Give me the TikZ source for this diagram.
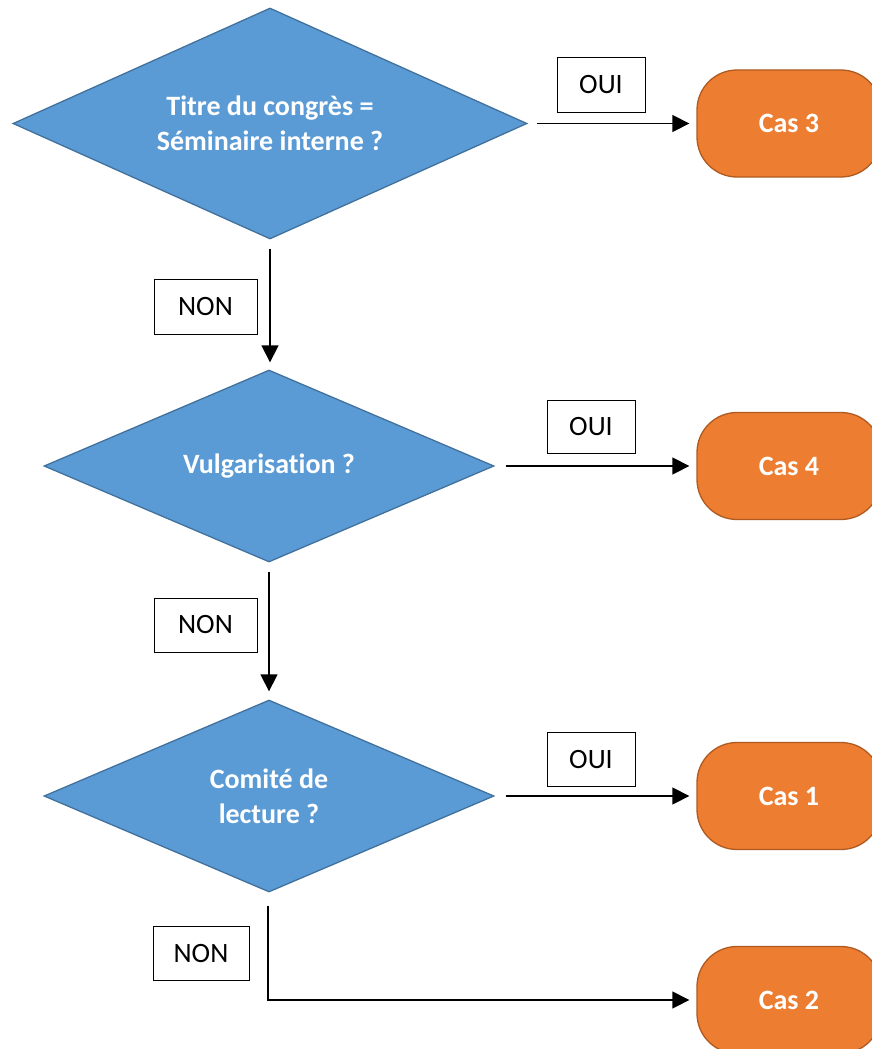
\documentclass[tikz,border=0pt]{standalone}
\usepackage{fontspec}
\setmainfont[RawFeature=-liga]{Carlito}
\usetikzlibrary{shapes.geometric,arrows.meta}
\definecolor{dfill}{HTML}{5B9BD5}
\definecolor{ddraw}{HTML}{41719C}
\definecolor{tfill}{HTML}{ED7D31}
\definecolor{tdraw}{HTML}{AE5A21}
\begin{document}
\begin{tikzpicture}[x=1pt,y=-1pt,
  decision/.style={diamond,draw=ddraw,fill=dfill,line width=1.3pt,inner sep=0pt,
    text=white,font=\fontsize{28}{35}\selectfont\bfseries,align=center},
  term/.style={rectangle,rounded corners=40pt,draw=tdraw,fill=tfill,line width=1.3pt,
    minimum width=184pt,minimum height=107pt,inner sep=0pt,text=white,
    font=\fontsize{28}{35}\selectfont\bfseries},
  lab/.style={rectangle,draw=black,line width=1pt,inner sep=0pt,
    font=\fontsize{28}{34}\selectfont},
  conn/.style={line width=1.3pt,-{Triangle[length=17pt,width=17pt]}}]
\useasboundingbox (0,0) rectangle (872,1049);
\clip (0,0) rectangle (872,1049);
% decisions
\node[decision,shape aspect=2.22,minimum width=514pt,minimum height=231pt] (d1) at (270,123.5)
  {Titre du congrès =\\Séminaire interne ?};
\node[decision,shape aspect=2.34,minimum width=450pt,minimum height=192pt] (d2) at (269,466)
  {Vulgarisation ?};
\node[decision,shape aspect=2.34,minimum width=450pt,minimum height=192pt] (d3) at (269,796)
  {Comité de\\lecture ?};
% terminals
\node[term] (c3) at (789,123.5) {Cas 3};
\node[term] (c4) at (789,466) {Cas 4};
\node[term] (c1) at (789,796) {Cas 1};
\node[term] (c2) at (789,1000) {Cas 2};
% labels
\node[lab,minimum width=88pt,minimum height=54pt] (o1) at (601,85) {OUI};
\node[lab,minimum width=88pt,minimum height=53pt] (o2) at (591,426.5) {OUI};
\node[lab,minimum width=88pt,minimum height=54pt] (o3) at (591,759.5) {OUI};
\node[lab,minimum width=103pt,minimum height=55pt] (n1) at (205.5,306.5) {NON};
\node[lab,minimum width=103pt,minimum height=54pt] (n2) at (205.5,625) {NON};
\node[lab,minimum width=96pt,minimum height=54pt] (n3) at (201,953) {NON};
% connectors
\draw[conn,shorten <=9pt,shorten >=7pt] (d1.east) -- (c3.west);
\draw[conn,shorten <=11pt,shorten >=7pt] (d2.east) -- (c4.west);
\draw[conn,shorten <=11pt,shorten >=7pt] (d3.east) -- (c1.west);
\draw[conn,shorten <=9pt,shorten >=7pt] (d1.south) -- (d1.south |- d2.north);
\draw[conn,shorten <=9pt,shorten >=8pt] (d2.south) -- (d3.north);
\coordinate (bend) at (268,1000);
\draw[conn,shorten >=7pt] ([yshift=-13pt]d3.south -| bend) -- (bend) -- (c2.west);
\end{tikzpicture}
\end{document}
